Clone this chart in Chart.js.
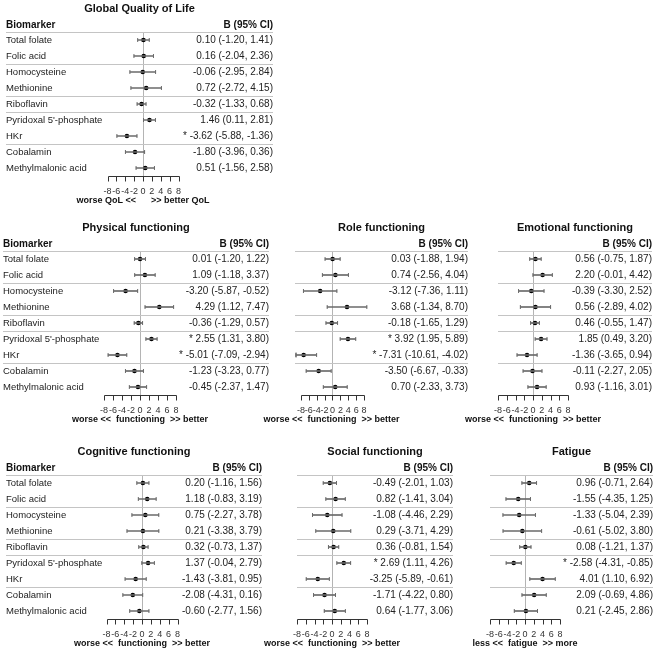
<!DOCTYPE html>
<html>
<head>
<meta charset="utf-8">
<script src="https://cdn.jsdelivr.net/npm/chart.js@4.4.1/dist/chart.umd.min.js"></script>
<style>
  body { margin: 0; background: #fff; }
  #page { position: relative; width: 658px; height: 650px; overflow: hidden; }
  .panel { position: absolute; height: 207px; }
</style>
</head>
<body>
<div id="page">
  <div class="panel" style="left:6px;top:0px;width:267px"><canvas id="qol"></canvas></div>
  <div class="panel" style="left:3px;top:219px;width:266px"><canvas id="phys"></canvas></div>
  <div class="panel" style="left:255px;top:219px;width:213px"><canvas id="role"></canvas></div>
  <div class="panel" style="left:458px;top:219px;width:194px"><canvas id="emo"></canvas></div>
  <div class="panel" style="left:6px;top:443px;width:256px"><canvas id="cog"></canvas></div>
  <div class="panel" style="left:257px;top:443px;width:196px"><canvas id="soc"></canvas></div>
  <div class="panel" style="left:450px;top:443px;width:203px"><canvas id="fat"></canvas></div>
</div>
<script>
const FONT = "'Liberation Sans', Arial, sans-serif";

// ---- data ----
const BIOMARKERS = ["Total folate", "Folic acid", "Homocysteine", "Methionine", "Riboflavin",
                    "Pyridoxal 5'-phosphate", "HKr", "Cobalamin", "Methylmalonic acid"];
const X_TICKS = [-8, -6, -4, -2, 0, 2, 4, 6, 8];
const GROUP_STARTS = [0, 2, 4, 5, 7];   // rows that open a new group (rule above them)

const QOL_EST = [0.10, 0.16, -0.06, 0.72, -0.32, 1.46, -3.62, -1.80, 0.51];
const QOL_LO  = [-1.20, -2.04, -2.95, -2.72, -1.33, 0.11, -5.88, -3.96, -1.56];
const QOL_HI  = [1.41, 2.36, 2.84, 4.15, 0.68, 2.81, -1.36, 0.36, 2.58];
const QOL_SIG = [6];

const PHYS_EST = [0.01, 1.09, -3.20, 4.29, -0.36, 2.55, -5.01, -1.23, -0.45];
const PHYS_LO  = [-1.20, -1.18, -5.87, 1.12, -1.29, 1.31, -7.09, -3.23, -2.37];
const PHYS_HI  = [1.22, 3.37, -0.52, 7.47, 0.57, 3.80, -2.94, 0.77, 1.47];
const PHYS_SIG = [5, 6];

const ROLE_EST = [0.03, 0.74, -3.12, 3.68, -0.18, 3.92, -7.31, -3.50, 0.70];
const ROLE_LO  = [-1.88, -2.56, -7.36, -1.34, -1.65, 1.95, -10.61, -6.67, -2.33];
const ROLE_HI  = [1.94, 4.04, 1.11, 8.70, 1.29, 5.89, -4.02, -0.33, 3.73];
const ROLE_SIG = [5, 6];

const EMO_EST = [0.56, 2.20, -0.39, 0.56, 0.46, 1.85, -1.36, -0.11, 0.93];
const EMO_LO  = [-0.75, -0.01, -3.30, -2.89, -0.55, 0.49, -3.65, -2.27, -1.16];
const EMO_HI  = [1.87, 4.42, 2.52, 4.02, 1.47, 3.20, 0.94, 2.05, 3.01];
const EMO_SIG = [];

const COG_EST = [0.20, 1.18, 0.75, 0.21, 0.32, 1.37, -1.43, -2.08, -0.60];
const COG_LO  = [-1.16, -0.83, -2.27, -3.38, -0.73, -0.04, -3.81, -4.31, -2.77];
const COG_HI  = [1.56, 3.19, 3.78, 3.79, 1.37, 2.79, 0.95, 0.16, 1.56];
const COG_SIG = [];

const SOC_EST = [-0.49, 0.82, -1.08, 0.29, 0.36, 2.69, -3.25, -1.71, 0.64];
const SOC_LO  = [-2.01, -1.41, -4.46, -3.71, -0.81, 1.11, -5.89, -4.22, -1.77];
const SOC_HI  = [1.03, 3.04, 2.29, 4.29, 1.54, 4.26, -0.61, 0.80, 3.06];
const SOC_SIG = [5];

const FAT_EST = [0.96, -1.55, -1.33, -0.61, 0.08, -2.58, 4.01, 2.09, 0.21];
const FAT_LO  = [-0.71, -4.35, -5.04, -5.02, -1.21, -4.31, 1.10, -0.69, -2.45];
const FAT_HI  = [2.64, 1.25, 2.39, 3.80, 1.37, -0.85, 6.92, 4.86, 2.86];
const FAT_SIG = [5];

const FUNC_AXIS = "worse <<  functioning  >> better";

// ---- rules, header, axis line and axis title ----
const decor = {
  id: 'decor',
  beforeDatasetsDraw(chart, args, opts) {
    const { ctx, chartArea, scales } = chart;
    const x = scales.x, y = scales.y, y2 = scales.y2;
    const left = opts.labels ? y.left : chartArea.left;
    const right = y2.right;
    ctx.save();
    ctx.strokeStyle = '#c4c4c4';
    ctx.lineWidth = 1;
    GROUP_STARTS.forEach(i => {
      const yy = i === 0 ? chartArea.top : (y.getPixelForValue(i - 1) + y.getPixelForValue(i)) / 2;
      const py = Math.round(yy) + 0.5;
      ctx.beginPath();
      ctx.moveTo(left, py);
      ctx.lineTo(right, py);
      ctx.stroke();
    });

    ctx.fillStyle = '#111';
    ctx.font = 'bold 10px ' + FONT;
    ctx.textBaseline = 'middle';
    if (opts.labels) {
      ctx.textAlign = 'left';
      ctx.fillText('Biomarker', left, chartArea.top - 7);
    }
    ctx.textAlign = 'right';
    ctx.fillText('B (95% CI)', right, chartArea.top - 7);

    // axis line only across the tick range
    const yb = Math.round(chartArea.bottom) + 0.5;
    ctx.strokeStyle = '#333';
    ctx.beginPath();
    ctx.moveTo(Math.round(x.getPixelForValue(X_TICKS[0])) + 0.5, yb);
    ctx.lineTo(Math.round(x.getPixelForValue(X_TICKS[X_TICKS.length - 1])) + 0.5, yb);
    X_TICKS.forEach(v => {
      const px = Math.round(x.getPixelForValue(v)) + 0.5;
      ctx.moveTo(px, yb);
      ctx.lineTo(px, yb + 5);
    });
    ctx.stroke();

    // axis title, wider than the plot so drawn here (no squeeze)
    ctx.font = 'bold 9px ' + FONT;
    ctx.textAlign = 'center';
    ctx.fillText(opts.xTitle, (chartArea.left + chartArea.right) / 2, chartArea.bottom + 24.5);
    ctx.restore();
  }
};

const fmt = v => v.toFixed(2);

function makePanel(id, p) {
  const ciLabels = p.est.map((e, i) =>
    (p.sig.includes(i) ? '* ' : '') + fmt(e) + ' (' + fmt(p.lo[i]) + ', ' + fmt(p.hi[i]) + ')');
  const bars = BIOMARKERS.map((b, i) => [Math.max(p.lo[i], p.xmin), Math.min(p.hi[i], p.xmax)]);
  const caps = [];
  const arrows = [];
  BIOMARKERS.forEach((b, i) => {
    if (p.lo[i] >= p.xmin) caps.push({ x: p.lo[i], y: b });
    else arrows.push({ x: p.xmin, y: b, r: -90 });
    if (p.hi[i] <= p.xmax) caps.push({ x: p.hi[i], y: b });
    else arrows.push({ x: p.xmax, y: b, r: 90 });
  });
  const points = BIOMARKERS.map((b, i) => ({ x: p.est[i], y: b }));

  new Chart(document.getElementById(id), {
    type: 'bar',
    data: {
      labels: BIOMARKERS,
      datasets: [
        { type: 'bar', data: bars, backgroundColor: '#6a6a6a', barThickness: 1, borderWidth: 0,
          xAxisID: 'x', yAxisID: 'y' },
        { type: 'scatter', indexAxis: 'x', data: caps, pointStyle: 'line', rotation: 90, radius: 2,
          borderColor: '#6a6a6a', borderWidth: 1, xAxisID: 'x', yAxisID: 'y' },
        { type: 'scatter', indexAxis: 'x', data: arrows, pointStyle: 'triangle',
          rotation: c => (c.raw ? c.raw.r : 0), radius: 2.5,
          backgroundColor: 'rgba(0,0,0,0)', borderColor: '#6a6a6a', borderWidth: 1,
          xAxisID: 'x', yAxisID: 'y' },
        { type: 'scatter', indexAxis: 'x', data: points, pointStyle: 'circle', radius: 2.3,
          backgroundColor: '#000', borderWidth: 0, xAxisID: 'x', yAxisID: 'y' }
      ]
    },
    options: {
      indexAxis: 'y',
      responsive: true,
      maintainAspectRatio: false,
      animation: false,
      events: [],
      layout: { padding: { left: p.padL, right: 0, top: 0, bottom: 0 } },
      plugins: {
        legend: { display: false },
        tooltip: { enabled: false },
        title: {
          display: true, text: p.title, color: '#111',
          font: { family: FONT, size: 11, weight: 'bold' },
          padding: { top: 2, bottom: 16.8 }
        },
        decor: { labels: p.lw > 0, xTitle: p.xTitle }
      },
      scales: {
        x: {
          type: 'linear', min: p.xmin, max: p.xmax,
          afterBuildTicks: s => { s.ticks = X_TICKS.map(v => ({ value: v })); },
          afterFit: s => { s.height = 31; },
          ticks: { autoSkip: false, maxRotation: 0, color: '#333', padding: 11,
                   font: { family: FONT, size: 9, lineHeight: 1 } },
          grid: { color: c => (c.tick && c.tick.value === 0 ? '#b4b4b4' : 'rgba(0,0,0,0)'),
                  drawTicks: false },
          border: { display: false }
        },
        y: {
          type: 'category', position: 'left', offset: true, display: p.lw > 0,
          ticks: { autoSkip: false, crossAlign: 'far', padding: 0, color: '#222',
                   font: { family: FONT, size: 9.5 } },
          grid: { display: false },
          border: { display: false },
          afterFit: s => { s.width = p.lw; }
        },
        y2: {
          type: 'category', position: 'right', offset: true, labels: ciLabels,
          ticks: { autoSkip: false, crossAlign: 'far', padding: 0, color: '#222',
                   font: { family: FONT, size: 10 } },
          grid: { display: false },
          border: { display: false },
          afterFit: s => { s.width = p.rw; }
        }
      }
    },
    plugins: [decor]
  });
}

makePanel('qol',  { title: 'Global Quality of Life', xTitle: 'worse QoL <<      >> better QoL',
  est: QOL_EST, lo: QOL_LO, hi: QOL_HI, sig: QOL_SIG, xmin: -8, xmax: 8, lw: 101.5, rw: 94.5, padL: 0 });
makePanel('phys', { title: 'Physical functioning', xTitle: FUNC_AXIS,
  est: PHYS_EST, lo: PHYS_LO, hi: PHYS_HI, sig: PHYS_SIG, xmin: -8, xmax: 8, lw: 101, rw: 93, padL: 0 });
makePanel('role', { title: 'Role functioning', xTitle: FUNC_AXIS,
  est: ROLE_EST, lo: ROLE_LO, hi: ROLE_HI, sig: ROLE_SIG, xmin: -9.5, xmax: 9, lw: 0, rw: 100, padL: 40 });
makePanel('emo',  { title: 'Emotional functioning', xTitle: FUNC_AXIS,
  est: EMO_EST, lo: EMO_LO, hi: EMO_HI, sig: EMO_SIG, xmin: -8, xmax: 8, lw: 0, rw: 84, padL: 40 });
makePanel('cog',  { title: 'Cognitive functioning', xTitle: FUNC_AXIS,
  est: COG_EST, lo: COG_LO, hi: COG_HI, sig: COG_SIG, xmin: -8, xmax: 8, lw: 100.5, rw: 84.5, padL: 0 });
makePanel('soc',  { title: 'Social functioning', xTitle: FUNC_AXIS,
  est: SOC_EST, lo: SOC_LO, hi: SOC_HI, sig: SOC_SIG, xmin: -8, xmax: 8, lw: 0, rw: 86, padL: 40 });
makePanel('fat',  { title: 'Fatigue', xTitle: 'less <<  fatigue  >> more',
  est: FAT_EST, lo: FAT_LO, hi: FAT_HI, sig: FAT_SIG, xmin: -8, xmax: 8, lw: 0, rw: 93, padL: 40 });
</script>
</body>
</html>
